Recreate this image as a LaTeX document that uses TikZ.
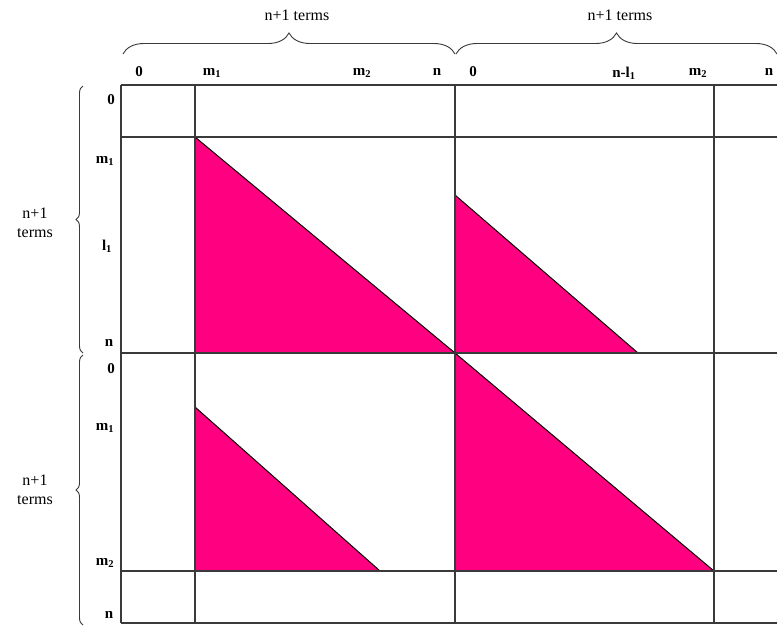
\documentclass[tikz,border=0pt]{standalone}
\usepackage{fontspec}
\setmainfont{Liberation Serif}
\usetikzlibrary{decorations.pathreplacing}
\definecolor{tripink}{HTML}{FF0080}
\definecolor{gridgray}{HTML}{3A3A3A}
\tikzset{
  gridline/.style={draw=gridgray,line width=1.2pt},
  tri/.style={fill=tripink},
  hyp/.style={draw=black,line width=1pt},
  lab/.style={font=\fontsize{15}{15}\selectfont\bfseries,inner sep=0pt},
  terms/.style={font=\fontsize{16}{19}\selectfont,align=center,inner sep=0pt},
  bracebig/.style={decorate,decoration={brace,amplitude=21pt},draw=gridgray,line width=0.9pt},
  bracesmall/.style={decorate,decoration={brace,amplitude=7pt},draw=gridgray,line width=0.9pt}
}
\begin{document}
\begin{tikzpicture}[x=1pt,y=-1pt]
\useasboundingbox[fill=white] (0,0) rectangle (777,625);
% triangles
\fill[tri] (195,137) -- (195,353) -- (455,353) -- cycle;
\draw[hyp] (195,137) -- (455,353);
\fill[tri] (455,195) -- (455,353) -- (638,353) -- cycle;
\draw[hyp] (455,195) -- (638,353);
\fill[tri] (195,407) -- (195,571) -- (380,571) -- cycle;
\draw[hyp] (195,407) -- (380,571);
\fill[tri] (455,353) -- (455,571) -- (714,571) -- cycle;
\draw[hyp] (455,353) -- (714,571);
% grid
\foreach \yy in {85,137,353,571,623} \draw[gridline] (121,\yy) -- (777,\yy);
\foreach \xx in {121,195,455,714} \draw[gridline] (\xx,85) -- (\xx,623);
% top labels
\node[lab] (t0a) at (139,72) {0};
\node[lab] (tm1) at (212,73) {m\textsubscript{1}};
\node[lab] (tm2a) at (362,73) {m\textsubscript{2}};
\node[lab] (tna) at (437,72) {n};
\node[lab] (t0b) at (473,72) {0};
\node[lab] (tnl) at (624,73) {n-l\textsubscript{1}};
\node[lab] (tm2b) at (698,73) {m\textsubscript{2}};
\node[lab] (tnb) at (769,72) {n};
% left labels
\node[lab] (l0a) at (111,100) {0};
\node[lab] (lm1a) at (105,161) {m\textsubscript{1}};
\node[lab] (ll1) at (107,246) {l\textsubscript{1}};
\node[lab] (lna) at (109,343) {n};
\node[lab] (l0b) at (111,369) {0};
\node[lab] (lm1b) at (105,428) {m\textsubscript{1}};
\node[lab] (lm2) at (105,563) {m\textsubscript{2}};
\node[lab] (lnb) at (109,615) {n};
% braces
\draw[bracebig] (123,54) -- (455,54);
\draw[bracebig] (456,54) -- (777,54);
\draw[bracesmall] (83,353) -- (83,86);
\draw[bracesmall] (83,625) -- (83,355);
\node[terms] (tt1) at (297,15) {n+1 terms};
\node[terms] (tt2) at (620,15) {n+1 terms};
\node[terms] (lt1) at (35,223) {n+1\\terms};
\node[terms] (lt2) at (35,490) {n+1\\terms};
\end{tikzpicture}
\end{document}
